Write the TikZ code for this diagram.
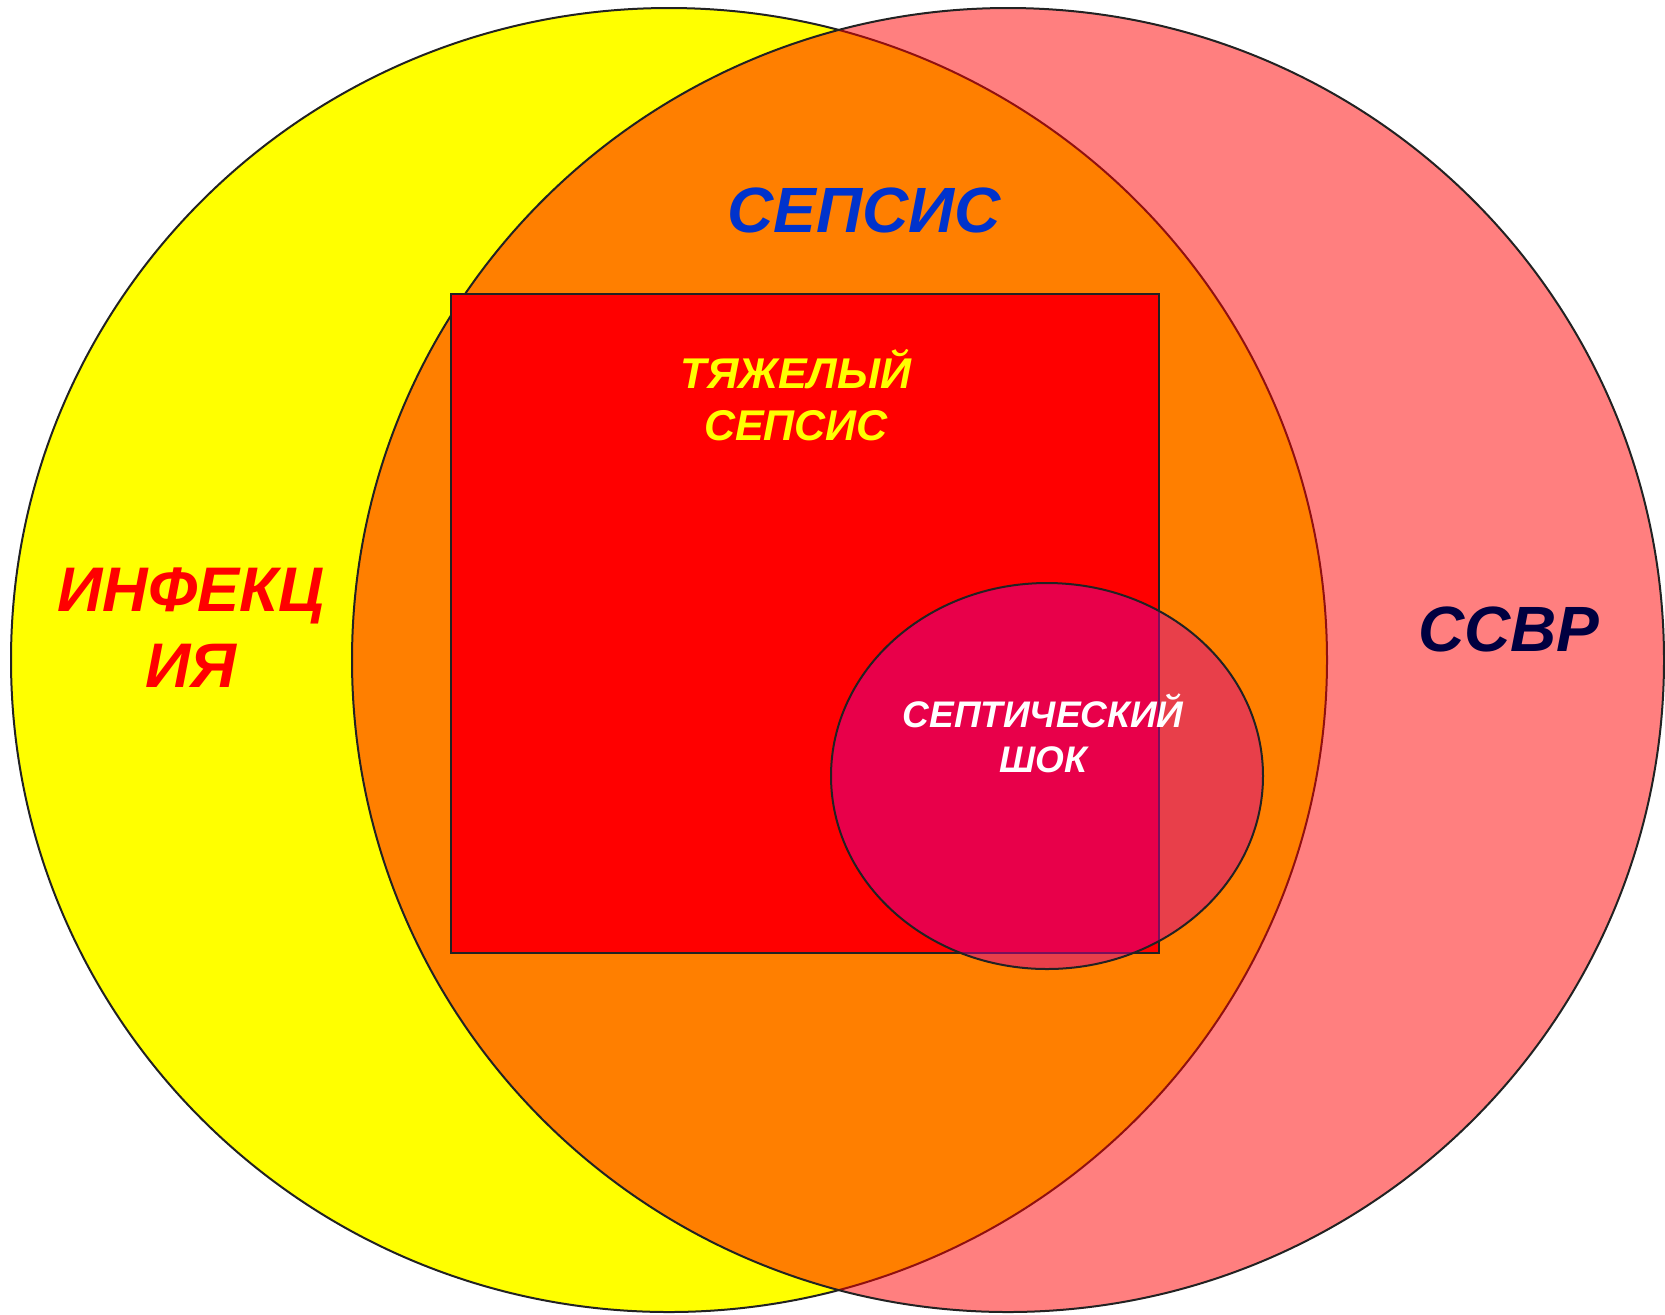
\documentclass[tikz,border=0pt]{standalone}
\usepackage{fontspec}
\setmainfont{Liberation Sans}
\definecolor{myyellow}{RGB}{255,255,0}
\definecolor{myred}{RGB}{255,0,0}
\definecolor{shockfill}{RGB}{211,0,148}
\definecolor{outline}{RGB}{34,34,34}
\definecolor{sepsisblue}{RGB}{0,51,204}
\definecolor{ssvrnavy}{RGB}{0,0,64}
\tikzset{
  shape line/.style={draw=outline, line width=1pt},
  lbl/.style={font=\bfseries\itshape, align=center, inner sep=0pt},
}
\begin{document}
\begin{tikzpicture}[x=0.5pt, y=-0.5pt]
\useasboundingbox (0,0) rectangle (1665,1314);
% infection circle
\fill[myyellow] (669,660) ellipse [x radius=329pt, y radius=326pt];
\draw[shape line] (669,660) ellipse [x radius=329pt, y radius=326pt];
% SIRS circle (semi-transparent red)
\fill[myred, fill opacity=0.5] (1008,660) ellipse [x radius=328pt, y radius=326pt];
\draw[shape line] (1008,660) ellipse [x radius=328pt, y radius=326pt];
% severe sepsis square
\draw[shape line, fill=myred] (451,294) rectangle (1159,953);
% septic shock ellipse
\fill[shockfill, fill opacity=0.5] (1047,776) ellipse [x radius=108pt, y radius=96.5pt];
\draw[shape line] (1047,776) ellipse [x radius=108pt, y radius=96.5pt];
% labels
\node[lbl, text=sepsisblue, font=\fontsize{32pt}{38pt}\selectfont\bfseries\itshape] (sepsis) at (864,210) {СЕПСИС};
\node[lbl, text=myyellow, font=\fontsize{21.5pt}{26pt}\selectfont\bfseries\itshape] (severe) at (796,395) {ТЯЖЕЛЫЙ\\СЕПСИС};
\node[lbl, text=myred, font=\fontsize{31.5pt}{38pt}\selectfont\bfseries\itshape] (infection) at (191,628) {ИНФЕКЦ\\ИЯ};
\node[lbl, text=ssvrnavy, font=\fontsize{32pt}{38pt}\selectfont\bfseries\itshape] (ssvr) at (1509,629) {ССВР};
\node[lbl, text=white, font=\fontsize{18.5pt}{22.5pt}\selectfont\bfseries\itshape] (shock) at (1043,733) {СЕПТИЧЕСКИЙ\\ШОК};
\end{tikzpicture}
\end{document}
